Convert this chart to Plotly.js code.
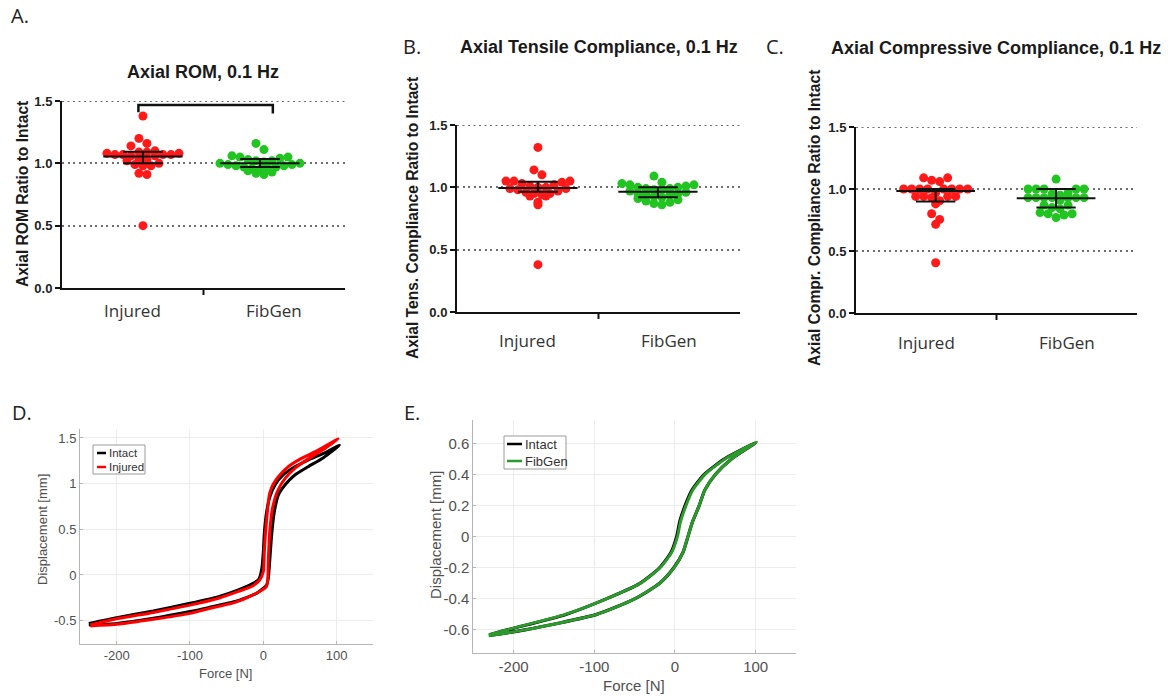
<!DOCTYPE html>
<html><head><meta charset="utf-8">
<script src="https://cdn.plot.ly/plotly-3.0.1.min.js"></script>
<style>html,body{margin:0;padding:0;background:#fff}#chart{width:1174px;height:696px}</style>
</head><body><div id="chart"></div>
<script>
// ---------------- DATA ----------------
const groups = ['Injured', 'FibGen'];
const ratioTicks = [0, 0.5, 1.0, 1.5];

// A. Axial ROM ratio to intact
const romInjured = [1.38, 1.20, 1.16, 1.14, 1.10, 1.09, 1.09, 1.08, 1.08, 1.07, 1.07, 1.07, 1.07, 1.06, 1.06, 1.04, 1.03, 1.02, 1.00, 0.99, 0.98, 0.98, 0.92, 0.91, 0.50];
const romFibGen  = [1.16, 1.11, 1.06, 1.05, 1.05, 1.04, 1.03, 1.02, 1.02, 1.01, 1.00, 1.00, 0.99, 0.99, 0.98, 0.98, 0.97, 0.97, 0.96, 0.96, 0.95, 0.94, 0.93, 0.92, 0.91];
const romMedian = [1.055, 1.00];
const romLower  = [1.00, 0.97];
const romUpper  = [1.093, 1.035];
const romBracketX = [0.04, 0.04, 0.99, 0.99];
const romBracketY = [1.41, 1.467, 1.467, 1.40];

// B. Axial tensile compliance ratio to intact
const tensInjured = [1.32, 1.14, 1.10, 1.05, 1.05, 1.05, 1.04, 1.03, 1.02, 1.01, 1.00, 1.00, 0.99, 0.99, 0.98, 0.97, 0.96, 0.95, 0.95, 0.94, 0.93, 0.93, 0.88, 0.86, 0.38];
const tensFibGen  = [1.09, 1.04, 1.03, 1.02, 1.02, 1.01, 1.00, 1.00, 0.99, 0.99, 0.98, 0.98, 0.97, 0.96, 0.95, 0.95, 0.94, 0.94, 0.93, 0.92, 0.91, 0.90, 0.89, 0.88, 0.87, 0.86];
const tensMedian = [0.995, 0.965];
const tensLower  = [0.965, 0.92];
const tensUpper  = [1.045, 1.00];

// C. Axial compressive compliance ratio to intact
const compInjured = [1.09, 1.09, 1.07, 1.06, 1.00, 1.00, 1.00, 1.00, 1.00, 1.00, 1.00, 1.00, 0.97, 0.94, 0.94, 0.94, 0.94, 0.93, 0.905, 0.88, 0.80, 0.755, 0.715, 0.405];
const compFibGen  = [1.08, 1.00, 1.00, 1.00, 1.00, 1.00, 0.97, 0.96, 0.95, 0.93, 0.93, 0.93, 0.93, 0.93, 0.93, 0.93, 0.91, 0.87, 0.87, 0.85, 0.84, 0.81, 0.80, 0.80, 0.79, 0.77];
const compMedian = [0.983, 0.925];
const compLower  = [0.90, 0.85];
const compUpper  = [1.00, 1.00];

// D. Force-displacement loops, intact vs injured
const seriesD = ['Intact', 'Injured'];
const dIntactForce = [-238, -200, -150, -100, -61, -34, -16, -6, -2, 0, 1.5, 4.5, 9, 16, 27, 43, 61, 82, 104, 82, 61, 43, 29.5, 20.5, 15, 11.4, 9, 6.8, 4.5, -9, -38.6, -75, -100, -150, -200, -238];
const dIntactDisp  = [-0.53, -0.467, -0.394, -0.31, -0.237, -0.164, -0.10, -0.044, 0.073, 0.255, 0.474, 0.69, 0.857, 0.985, 1.094, 1.185, 1.258, 1.33, 1.42, 1.284, 1.185, 1.094, 0.985, 0.875, 0.69, 0.44, 0.18, -0.036, -0.11, -0.20, -0.29, -0.357, -0.40, -0.474, -0.53, -0.547];
const dInjuredForce = [-236, -200, -150, -100, -61, -34, -14, -5, 0, 1.4, 3, 5.5, 8, 11, 14, 20.5, 34, 52, 75, 102, 85, 65, 45, 30, 20, 13, 9, 7, 6, 4, -16, -38.6, -75, -100, -150, -200, -236];
const dInjuredDisp  = [-0.547, -0.48, -0.41, -0.33, -0.255, -0.18, -0.117, -0.055, 0.036, 0.255, 0.47, 0.69, 0.87, 0.95, 1.0, 1.076, 1.185, 1.276, 1.367, 1.49, 1.39, 1.29, 1.18, 1.06, 0.93, 0.75, 0.5, 0.2, -0.05, -0.13, -0.226, -0.30, -0.37, -0.42, -0.485, -0.54, -0.558];
const dForceTicks = [-200, -100, 0, 100];
const dDispTicks = [-0.5, 0, 0.5, 1, 1.5];

// E. Force-displacement loops, intact vs FibGen
const seriesE = ['Intact', 'FibGen'];
const eIntactForce = [-230, -208, -136, -86, -44, -19.5, -5, 2, 6, 12.5, 21, 36, 61, 100, 70, 50, 37, 30, 22, 16, 10, -1.5, -19, -50, -97, -186, -230];
const eIntactDisp  = [-0.632, -0.6, -0.502, -0.402, -0.302, -0.202, -0.102, 0, 0.1, 0.2, 0.3, 0.4, 0.5, 0.605, 0.5, 0.4, 0.3, 0.2, 0.1, 0, -0.1, -0.2, -0.3, -0.4, -0.5, -0.6, -0.636];
const eFibForce = [-231, -209, -136, -85, -43, -18.6, -4, 3, 7, 13.6, 22, 37, 62, 101, 70, 50, 37, 30, 22, 16, 10, -1.2, -19, -50, -97, -186, -231];
const eFibDisp  = [-0.633, -0.6, -0.5, -0.4, -0.3, -0.2, -0.1, 0, 0.1, 0.2, 0.3, 0.4, 0.5, 0.61, 0.5, 0.4, 0.3, 0.2, 0.1, 0, -0.1, -0.2, -0.3, -0.4, -0.5, -0.6, -0.637];
const eForceTicks = [-200, -100, 0, 100];
const eDispTicks = [-0.6, -0.4, -0.2, 0, 0.2, 0.4, 0.6];

// ---------------- LAYOUT HELPERS ----------------
const W = 1174, H = 696;
const fx = p => p / W, fy = p => 1 - p / H;
const SANS = 'Liberation Sans, Arial, Helvetica, sans-serif';
const OPEN = 'Open Sans, sans-serif';
const RED = '#ff1a1a', GREEN = '#22c422';
const GRID_DASH = '2px,3.5px', GRID_COLOR = '#6e6e6e';

// GraphPad-like column scatter: values grouped into horizontal rows, lowest values at the row centre
function rowScatter(vals, center, pxX, binH, s) {
  const idx = vals.map((v, i) => i).sort((a, b) => vals[b] - vals[a]);
  const xs = new Array(vals.length);
  let k = 0;
  while (k < idx.length) {
    const top = vals[idx[k]], row = [];
    while (k < idx.length && top - vals[idx[k]] < binH - 1e-9) { row.push(idx[k]); k++; }
    row.sort((a, b) => vals[a] - vals[b]);
    const n = row.length, slots = [];
    if (n % 2 === 1) { slots.push(0); for (let j = 1; slots.length < n; j++) { slots.push(j); if (slots.length < n) slots.push(-j); } }
    else { for (let j = 0; slots.length < n; j++) { slots.push(j + 0.5); if (slots.length < n) slots.push(-(j + 0.5)); } }
    row.forEach((id, t) => { xs[id] = center + slots[t] * s / pxX; });
  }
  return xs;
}

function summary(c, med, lo, hi, ax, ay) {
  const hw = 0.28, cw = 0.14;
  return { type: 'scatter', mode: 'lines', x: [c - hw, c + hw, null, c, c, null, c - cw, c + cw, null, c - cw, c + cw],
    y: [med, med, null, lo, hi, null, lo, lo, null, hi, hi], line: { color: '#111', width: 2 },
    xaxis: ax, yaxis: ay, hoverinfo: 'skip', showlegend: false, cliponaxis: false };
}

const traces = [];
function dotPanel(inj, fib, med, lo, hi, ax, ay, centers, pxX) {
  const sets = [inj, fib], cols = [RED, GREEN];
  sets.forEach((vals, g) => {
    traces.push({ type: 'scatter', mode: 'markers', name: groups[g], x: rowScatter(vals, centers[g], pxX, 0.055, 8), y: vals,
      marker: { color: cols[g], size: 9, line: { width: 0 } }, xaxis: ax, yaxis: ay, showlegend: false, cliponaxis: false });
  });
  for (let g = 0; g < 2; g++) traces.push(summary(centers[g], med[g], lo[g], hi[g], ax, ay));
}

dotPanel(romInjured, romFibGen, romMedian, romLower, romUpper, 'x', 'y', [0.072, 0.899], 141.5);
traces.push({ type: 'scatter', mode: 'lines', x: romBracketX, y: romBracketY, line: { color: '#111', width: 2.5 }, xaxis: 'x', yaxis: 'y', showlegend: false, hoverinfo: 'skip', cliponaxis: false });
dotPanel(tensInjured, tensFibGen, tensMedian, tensLower, tensUpper, 'x2', 'y2', [0.072, 0.92], 141.5);
dotPanel(compInjured, compFibGen, compMedian, compLower, compUpper, 'x3', 'y3', [0.067, 0.924], 140.5);

traces.push({ type: 'scatter', mode: 'lines', name: seriesD[0], x: dIntactForce, y: dIntactDisp, line: { color: '#000', width: 3, shape: 'spline', smoothing: 0.5 }, xaxis: 'x4', yaxis: 'y4', showlegend: false });
traces.push({ type: 'scatter', mode: 'lines', name: seriesD[1], x: dInjuredForce, y: dInjuredDisp, line: { color: '#ff0000', width: 3, shape: 'spline', smoothing: 0.5 }, xaxis: 'x4', yaxis: 'y4', showlegend: false });
traces.push({ type: 'scatter', mode: 'lines', name: seriesE[0], x: eIntactForce, y: eIntactDisp, line: { color: '#000', width: 3.2, shape: 'spline', smoothing: 0.6 }, xaxis: 'x5', yaxis: 'y5', showlegend: false });
traces.push({ type: 'scatter', mode: 'lines', name: seriesE[1], x: eFibForce, y: eFibDisp, line: { color: '#2a9a2a', width: 3, shape: 'spline', smoothing: 0.6 }, xaxis: 'x5', yaxis: 'y5', showlegend: false });

function gpX(x0, x1, anchor) {
  return { domain: [fx(x0), fx(x1)], range: [-0.5, 1.5], anchor, showline: true, linecolor: '#111', linewidth: 2,
    showgrid: false, zeroline: false, showticklabels: false, ticks: '', fixedrange: true };
}
function gpY(y0, y1, anchor) {
  return { domain: [fy(y0), fy(y1)], range: [0, 1.5], anchor, showline: true, linecolor: '#111', linewidth: 2,
    ticks: 'outside', ticklen: 5, tickwidth: 2, tickcolor: '#111', tickvals: ratioTicks, ticktext: ratioTicks.map(v => v.toFixed(1)),
    tickfont: { family: SANS, size: 13, color: '#222', weight: 'bold' }, showgrid: true, gridcolor: GRID_COLOR, gridwidth: 2,
    griddash: GRID_DASH, zeroline: false, fixedrange: true };
}
function mlX(x0, x1, anchor, ticks, fs) {
  return { domain: [fx(x0), fx(x1)], range: [-250, 150], anchor, showline: true, linecolor: '#b5b5b5', linewidth: 1,
    ticks: 'inside', ticklen: 3, tickcolor: '#b5b5b5', tickvals: ticks, ticktext: ticks.map(String),
    tickfont: { family: SANS, size: fs, color: '#505050' }, showgrid: true, gridcolor: '#ececec', gridwidth: 1, zeroline: false, fixedrange: true };
}
function mlY(y0, y1, anchor, range, ticks, fs) {
  return { domain: [fy(y0), fy(y1)], range, anchor, showline: true, linecolor: '#b5b5b5', linewidth: 1,
    ticks: 'inside', ticklen: 3, tickcolor: '#b5b5b5', tickvals: ticks, ticktext: ticks.map(String),
    tickfont: { family: SANS, size: fs, color: '#505050' }, showgrid: true, gridcolor: '#ececec', gridwidth: 1, zeroline: false, fixedrange: true };
}

const ann = [];
function txt(text, x, y, size, opts = {}) {
  ann.push(Object.assign({ text, x: fx(x), y: fy(y), xref: 'paper', yref: 'paper', showarrow: false, xanchor: 'center', yanchor: 'middle',
    font: { family: SANS, size, color: '#222' } }, opts));
}
// panel letters
const letterFont = { family: OPEN, size: 20, color: '#222' };
txt('A.', 20, 16, 20, { font: letterFont });
txt('B.', 412, 46, 20, { font: letterFont });
txt('C.', 775, 46, 20, { font: letterFont });
txt('D.', 22, 412, 20, { font: letterFont });
txt('E.', 412, 412, 20, { font: letterFont });
// titles
const titleFont = { family: SANS, size: 18, color: '#1a1a1a', weight: 'bold' };
txt('Axial ROM, 0.1 Hz', 203, 72, 18, { font: titleFont });
txt('Axial Tensile Compliance, 0.1 Hz', 599, 47, 18, { font: titleFont });
txt('Axial Compressive Compliance, 0.1 Hz', 996, 48, 18, { font: titleFont });
// y titles (dot plots)
const yTitleFont = { family: SANS, size: 15.6, color: '#1a1a1a', weight: 'bold' };
txt('Axial ROM Ratio to Intact', 22, 194, 15.6, { textangle: -90, font: yTitleFont });
txt('Axial Tens. Compliance Ratio to Intact', 413, 218, 15.6, { textangle: -90, font: yTitleFont });
txt('Axial Compr. Compliance Ratio to Intact', 815, 218, 15.6, { textangle: -90, font: yTitleFont });
// category labels
[['x', 310], ['x2', 340], ['x3', 342]].forEach(([ax, py]) => {
  groups.forEach((g, i) => ann.push({ text: g, x: i, xref: ax, y: fy(py), yref: 'paper', showarrow: false, xanchor: 'center', yanchor: 'middle',
    font: { family: OPEN, size: 17, color: '#333' } }));
});
// MATLAB axis titles
txt('Displacement [mm]', 42, 530, 13, { textangle: -90, font: { family: SANS, size: 13, color: '#505050' } });
txt('Force [N]', 225, 673, 13, { font: { family: SANS, size: 13, color: '#505050' } });
txt('Displacement [mm]', 435, 535, 15, { textangle: -90, font: { family: SANS, size: 15, color: '#505050' } });
txt('Force [N]', 634, 685, 15, { font: { family: SANS, size: 15, color: '#505050' } });

const shapes = [];
function pline(x0, y0, x1, y1, color, width) {
  shapes.push({ type: 'line', xref: 'paper', yref: 'paper', x0: fx(x0), y0: fy(y0), x1: fx(x1), y1: fy(y1), line: { color, width } });
}
// top (1.5) reference lines, which sit on the axis edge
[['x', 'y'], ['x2', 'y2'], ['x3', 'y3']].forEach(([ax, ay]) => {
  const top = ratioTicks[ratioTicks.length - 1];
  shapes.push({ type: 'line', xref: ax + ' domain', yref: ay, x0: 0, x1: 1, y0: top, y1: top, layer: 'below',
    line: { color: GRID_COLOR, width: 2, dash: GRID_DASH } });
});
// centre ticks of dot plots
pline(203.5, 288, 203.5, 295, '#111', 2);
pline(598.5, 312, 598.5, 319, '#111', 2);
pline(996.5, 313, 996.5, 320, '#111', 2);
// manual legends
function legend(x0, y0, x1, y1, lx0, lx1, rows, names, colors, fs) {
  shapes.push({ type: 'rect', xref: 'paper', yref: 'paper', x0: fx(x0), y0: fy(y0), x1: fx(x1), y1: fy(y1), line: { color: '#9a9a9a', width: 1 }, fillcolor: '#fff' });
  names.forEach((n, i) => {
    pline(lx0, rows[i], lx1, rows[i], colors[i], 2.5);
    ann.push({ text: n, x: fx(lx1 + 0.5), y: fy(rows[i]), xref: 'paper', yref: 'paper', showarrow: false, xanchor: 'left', yanchor: 'middle',
      font: { family: SANS, size: fs, color: '#333' } });
  });
}
legend(93, 445, 145, 474, 97, 106, [453, 467], seriesD, ['#000', '#ff0000'], 11.5);
legend(504, 436, 566, 469, 507, 522, [444, 461], seriesE, ['#000', '#2a9a2a'], 13);

const layout = {
  width: W, height: H, margin: { l: 0, r: 0, t: 0, b: 0 }, paper_bgcolor: '#fff', plot_bgcolor: 'rgba(0,0,0,0)',
  showlegend: false, hovermode: false,
  xaxis: gpX(62, 345, 'y'), yaxis: gpY(288, 101, 'x'),
  xaxis2: gpX(457, 740, 'y2'), yaxis2: gpY(312, 125, 'x2'),
  xaxis3: gpX(856, 1137, 'y3'), yaxis3: gpY(313, 127, 'x3'),
  xaxis4: mlX(80, 373.3, 'y4', dForceTicks, 13), yaxis4: mlY(643.5, 428.8, 'x4', [-0.75, 1.6], dDispTicks, 13),
  xaxis5: mlX(473.3, 796, 'y5', eForceTicks, 15), yaxis5: mlY(653.2, 420.2, 'x5', [-0.75, 0.75], eDispTicks, 15),
  annotations: ann, shapes
};
Plotly.newPlot('chart', traces, layout, { staticPlot: true, displayModeBar: false });
</script></body></html>
